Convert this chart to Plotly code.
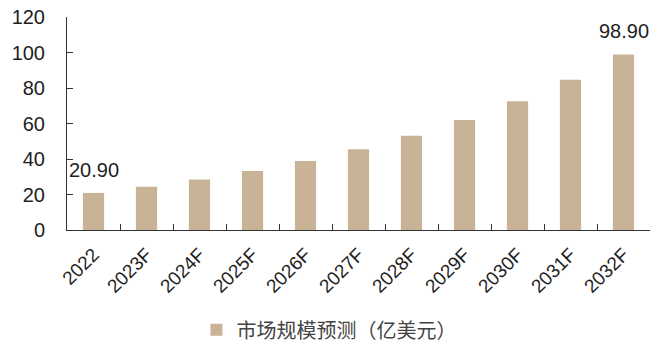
import plotly.graph_objects as go

categories = ["2022", "2023F", "2024F", "2025F", "2026F", "2027F", "2028F", "2029F", "2030F", "2031F", "2032F"]
values = [20.9, 24.4, 28.4, 33.3, 38.9, 45.5, 53.1, 62.0, 72.5, 84.7, 98.9]
labels = ["20.90", "", "", "", "", "", "", "", "", "", "98.90"]
series_name = "市场规模预测（亿美元）"
y_ticks = [0, 20, 40, 60, 80, 100, 120]

bar_color = "#c9b396"
text_color = "#1e1e1e"

fig = go.Figure()
fig.add_trace(go.Bar(
    x=categories, y=values, name=series_name,
    marker=dict(color=bar_color, line=dict(width=0)),
    showlegend=True,
))

for i, (v, t) in enumerate(zip(values, labels)):
    if t:
        fig.add_annotation(x=i, y=v, text=t, showarrow=False, yanchor="bottom",
                           yshift=10, font=dict(family="Liberation Sans, Arial", size=20, color=text_color))

fig.update_layout(
    width=663, height=349,
    margin=dict(l=67, r=13, t=17, b=119),
    paper_bgcolor="white", plot_bgcolor="white",
    bargap=0.6,
    font=dict(family="Liberation Sans, Arial", color=text_color),
    legend=dict(orientation="h", x=0.222, xanchor="left", yref="container", y=0.055, yanchor="middle",
                font=dict(family="Noto Sans CJK SC", size=20, color="#444"),
                itemwidth=30),
    xaxis=dict(
        type="category", automargin=False, range=[-0.5, len(categories) - 0.5],
        showline=True, linecolor="#333", linewidth=1,
        ticks="inside", ticklen=6, tickcolor="#333", tickson="boundaries",
        tickangle=-45, tickfont=dict(size=19, color=text_color), ticklabelstandoff=5,
        showgrid=False,
    ),
    yaxis=dict(
        range=[0, 120], tickvals=y_ticks, automargin=False,
        showline=True, linecolor="#333", linewidth=1,
        ticks="inside", ticklen=6, tickcolor="#333",
        tickfont=dict(size=20, color=text_color), ticklabelstandoff=17,
        showgrid=False, zeroline=False,
    ),
)

fig.write_html("out.html")
